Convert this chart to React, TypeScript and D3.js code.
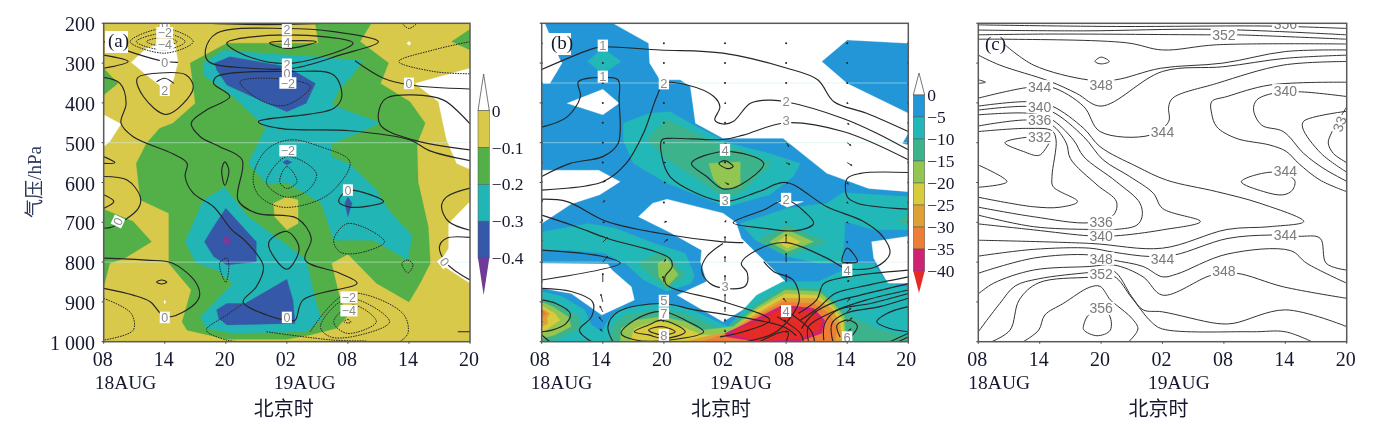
import React from "react";
import * as d3 from "d3";

type Pt = [number, number];

// ---------- axes ----------
const timeTicks = [0, 6, 12, 18, 24, 30, 36];
const timeLabels = ["08", "14", "20", "02", "08", "14", "20"];
const pressureTicks = [200, 300, 400, 500, 600, 700, 800, 900, 1000];
const pressureLabels = ["200", "300", "400", "500", "600", "700", "800", "900", "1 000"];

// ---------- panel (a): shaded field, outlines as [hours, hPa] ----------
const aWhite: Pt[][] = [
  [[2.7,298],[4.2,263],[6,248],[7,250],[7.3,298],[6.8,347],[6,366],[4.2,330]],
  [[0,430],[1.7,453],[.6,497],[0,510]],
  [[36,313],[30.6,351],[32.9,397],[33.7,493],[34.7,552],[36,567]],
  [[36,648],[33.9,703],[33.9,765],[33,803],[36,853]],
  [[30,245],[30.2,250],[30,256],[29.8,250]],
  [[6,895],[6.1,900],[6,905],[5.9,900]],
];
const aGreen: Pt[][] = [
  [[8.5,300],[12.1,250],[21.1,250],[20.8,200],[26.3,200],[25.2,246],[28,300],[27.2,351],[30.1,397],[31.6,451],[30.8,502],[30.9,598],[31.9,711],[32.1,803],[31.1,853],[30,900],[26.8,853],[24,780],[22.4,803],[23.1,879],[23.9,937],[22.9,966],[20.3,983],[18,994],[12.1,994],[8.2,971],[7.7,950],[8.6,870],[6.4,803],[6.4,677],[3.6,644],[3.2,552],[4.2,502],[5.5,464],[6.8,451],[9,401]],
  [[0,313],[1.4,351],[0,380]],
  [[0,667],[2.9,698],[4.7,749],[2.1,790],[.6,803],[0,862]],
  [[36,215],[34.2,246],[36,267]],
];
const aTeal: Pt[][] = [
  [[9.8,300],[11.8,267],[15.4,275],[20.9,284],[25.5,294],[24.2,338],[23.1,368],[22.4,405],[27.2,450],[24.5,481],[22.4,502],[22.4,535],[24.2,554],[26.8,619],[28.1,673],[30.3,732],[29.9,795],[26.5,745],[22.6,745],[21.4,652],[18,600],[16,602],[14.2,552],[15.9,464],[15,439],[12.7,384],[9.8,330]],
  [[8,749],[9.8,644],[11.9,612],[14.2,686],[18,757],[19.9,795],[20.8,895],[21.4,945],[19.9,975],[12.7,979],[10.1,966],[9.5,937],[10.8,904],[12.7,853],[11.1,820],[9.1,803]],
];
const aBlue: Pt[][] = [
  [[10.9,300],[12.4,284],[18,309],[20.8,351],[19.9,401],[18,422],[15.7,397],[12.1,355],[11.1,317]],
  [[18,543],[18.5,549],[18,556],[17.6,549]],
  [[24,636],[24.4,652],[24,686],[23.7,652]],
  [[9.9,749],[10.8,711],[12,665],[15,749],[15,799],[12.1,807],[10.8,786]],
  [[11.1,920],[12.1,904],[13.9,904],[18,843],[18.6,895],[18.8,954],[12.1,958],[11.3,941]],
];
const aPurple: Pt[][] = [[[12.1,732],[12.5,746],[12.1,760],[11.7,746]]];
const aYellowPatch: Pt[][] = [[[16.7,652],[18,636],[19.1,644],[19.1,703],[18,719],[16.8,686]]];

// contour lines of (a)
const aSolidOpen: Pt[][] = [
  [[0,280],[2.4,296],[0,313]],
  [[0,336],[1.6,351],[2.2,401],[1.7,451],[2.9,485],[6.8,528],[8.2,552],[8,585],[8.8,627],[10.8,661],[12.6,719],[14,749],[15.7,811],[15,862],[13.7,900],[16,933],[18,946],[18.8,946],[19.6,895],[24.9,853],[23.2,828],[19.8,795],[20.4,740],[19,690],[15,677],[13.2,644],[13.6,543],[11.4,510],[9.5,485],[8.6,451],[10.1,418],[12.4,384],[10.8,351],[11.1,334],[18.6,321],[22.6,330],[23.4,384],[22.6,414],[15.2,447],[17.3,464],[24.2,470],[30.1,493],[32,520],[36,545]],
  [[36,453],[35,426],[33.4,393],[30.4,380],[27.8,388],[27.1,414],[27.2,456],[30.4,493],[36,518]],
  [[24.7,294],[27.5,338],[30.1,355],[36,365]],
  [[36,738],[33.7,740],[33,761],[33.7,803],[36,845]],
  [[36,614],[33.7,636],[33.2,660],[33.9,698],[36,720]],
  [[0,585],[2.3,594],[3.6,636],[3.4,665],[.9,711],[0,715]],
  [[0,631],[1,648],[0,665]],
  [[0,535],[1.1,550],[0,552]],
  [[0,790],[4.2,795],[6.8,803],[9.1,853],[9.4,887],[8.2,920],[6,937],[4.6,900],[2.9,883],[0,866]],
  [[34.8,975],[36,975]],
  [[0,246],[3,275],[6,296],[7.3,298]],
  [[10,200],[14,203],[18,203],[22,200]],
  [[5.2,347],[6,338],[6.9,351]],
];
const aSolidClosed: Pt[][] = [
  [[5.2,850],[5.7,845],[6.2,850],[5.7,855]],
  [[11.6,569],[11.9,548],[12.3,569],[11.9,607]],
  [[16.2,753],[18,723],[19.2,765],[18,818]],
  [[23.1,648],[24,620],[27.5,648],[24.2,662]],
  [[3.3,338],[5.5,325],[8.1,330],[8.8,363],[6.2,429],[3.9,384]],
  [[27,246],[22.6,221],[18,213],[11.1,225],[10,267],[10.3,296],[14.4,313],[18.6,313],[23.2,280]],
  [[12.1,250],[18,229],[24.5,250],[18.6,300],[14.7,288]],
  [[16.3,249],[18,244],[20.9,246],[18,263]],
];
const aDottedClosed: Pt[][] = [
  [[2.6,246],[6,213],[8.8,246],[6,275]],
  [[3.2,246],[6,225],[8,246],[6,267]],
  [[4.2,246],[6,235],[7.2,246],[6,258]],
  [[17.3,598],[18,560],[19,598],[18,615]],
  [[16,594],[18,535],[20.9,577],[20.1,619],[18,637],[16.2,611]],
  [[14.7,585],[16,518],[18.3,493],[21.3,510],[24.2,548],[22.6,619],[20.3,652],[17.3,661],[15.2,631]],
  [[23.6,950],[24,944],[24.3,951],[24,953]],
  [[22.6,950],[24.5,908],[26.8,950],[23.9,979]],
  [[21.3,962],[24,891],[28.1,950],[24.5,987],[22.2,987]],
  [[22.6,745],[24,703],[27.6,749],[24.9,778],[23.2,774]],
  [[29.3,803],[29.9,795],[30.4,807],[29.9,827]],
  [[11.4,803],[12.1,790],[12.3,811],[12,851]],
  [[13.4,347],[18,341],[20.3,359],[18,405],[15.7,397]],
];
const aDottedOpen: Pt[][] = [
  [[20.3,975],[23.9,879],[29.4,929],[29.9,979],[29.1,1000]],
  [[16,975],[22.6,996],[25.8,998]],
  [[36,246],[32.4,267],[29,296],[32.4,321],[36,327]],
  [[29.3,200],[30,213],[30.8,200]],
  [[13.7,904],[12.1,933],[10.1,971],[12.1,996],[14,1000]],
  [[0,891],[2.7,929],[2.9,971],[0,996]],
];
const aLabels: [string, number, number, number][] = [
  ["0",6,202,0],["−2",6,224,0],["−4",6,254,0],["0",6,298,0],["2",6,368,0],
  ["2",18,216,0],["4",18,247,0],["2",18,303,0],["0",18,326,0],["−2",18.1,350,0],
  ["0",30,351,0],["−2",18.1,520,0],["0",24,619,0],["0",1.4,698,-65],["0",33.5,799,50],
  ["−2",24.1,888,0],["−4",24.1,922,0],["0",18,939,0],["0",6,939,0],
];
const aFaintLevels = [500, 800];

// ---------- panel (b) ----------
const bWhite: Pt[][] = [
  [[7,200],[36,200],[36,250],[30,242],[27.5,296],[30,351],[36,426],[36,476],[35.4,502],[36,506],[36,623],[32.1,615],[28,577],[23.7,489],[17.8,489],[15.1,451],[14.6,359],[13.6,342],[11.6,342],[10.6,300],[10.5,250]],
  [[0,200],[.3,200],[1.8,292],[2,300],[.8,351],[0,351]],
  [[2.5,401],[6,366],[7.6,401],[6,430]],
  [[0,569],[5.6,569],[7.7,598],[5.7,631],[2.9,654],[0,703]],
  [[0,803],[6.5,805],[6.9,820],[8.8,862],[9.1,895],[5.9,933],[2.9,879],[0,866]],
  [[9.5,686],[10.9,652],[12.3,642],[17.8,677],[19.1,701],[19.6,740],[24.1,853],[17.8,950],[13.3,883],[16.2,849],[15.6,799],[15.7,770],[12.7,727]],
  [[32.4,749],[36,735],[36,853],[34,853],[32.6,790]],
  [[23.1,648],[25.7,648],[24.1,662]],
];
const bTeal: Pt[][] = [
  [[4.5,296],[6,263],[7.8,296],[6,327]],
  [[8,451],[10.6,426],[12.6,422],[15.2,460],[18.5,502],[22.4,527],[25.4,552],[24.7,585],[22.4,631],[18.2,661],[12.3,602],[9,552],[8,493]],
  [[0,724],[4.6,703],[7.2,715],[11.1,753],[14.1,778],[15,833],[14.7,853],[12.3,874],[10,845],[8.2,803],[7.7,799],[6.2,778],[2.9,770],[0,770]],
  [[19.5,703],[24.1,665],[28,652],[29.6,625],[36,636],[36,719],[32.6,719],[29.8,698],[29.6,803],[27.2,803],[24.1,786],[21,745]],
  [[0,874],[1.9,885],[4.2,920],[4.9,958],[5.9,975],[6.5,946],[7.8,916],[11.8,904],[14.4,916],[18.3,962],[21.1,883],[23.7,849],[27.2,849],[29.6,820],[29.6,803],[32.6,803],[33.9,853],[36,863],[36,1000],[0,1000]],
];
const bSea: Pt[][] = [
  [[10.3,489],[12.3,443],[15.1,476],[17.8,510],[19.5,518],[22.6,552],[19.5,627],[17.8,636],[14.9,585],[12.3,543]],
  [[9.5,799],[11.4,778],[12.8,791],[14.1,833],[12.3,866],[10,820]],
  [[21.2,745],[24.1,707],[28,749],[24.1,786]],
  [[34.9,694],[36,682],[36,707]],
  [[0,891],[1.6,904],[3.6,937],[3.9,967],[1.9,988],[1,1000],[0,1000]],
  [[6.7,1000],[7,958],[8.2,933],[11.8,919],[14.1,929],[16.7,958],[18.3,975],[18.5,958],[21.1,904],[23.9,862],[27.3,866],[28.8,900],[29.8,929],[32.9,967],[36,988],[36,1000]],
];
const bLime: Pt[][] = [
  [[16.4,552],[19.5,548],[19.5,610],[17.8,615],[16.9,594]],
  [[11.4,803],[12.3,791],[13.4,832],[12.3,862],[11.5,837]],
  [[22.4,749],[24.1,719],[26.7,749],[24.1,774]],
  [[0,900],[1.1,912],[2.6,937],[2.9,962],[1.3,983],[0,992]],
  [[7.7,1000],[7.8,967],[9.1,946],[11.8,937],[14.1,950],[15.7,971],[18.8,962],[21.1,914],[23.9,870],[27.2,874],[28.8,908],[29.7,937],[29.9,1000]],
];
const bYellow: Pt[][] = [
  [[23.2,749],[24.1,732],[25.4,749],[24.1,765]],
  [[0,910],[1.3,929],[1.8,946],[.6,967],[0,979]],
  [[8.7,1000],[9.1,967],[10.5,954],[11.8,950],[13.7,962],[15.7,983],[18.3,983],[19.5,954],[21.1,920],[23.9,880],[27,883],[28.6,912],[29.6,946],[29.7,1000]],
];
const bTan: Pt[][] = [
  [[0,916],[.8,929],[.5,941],[.6,954],[0,962]],
  [[14.1,1000],[16.7,983],[18.3,979],[19.8,950],[21.3,927],[23.7,891],[26.8,891],[28.5,916],[29.3,954],[29.5,1000]],
];
const bOrange: Pt[][] = [
  [[0,921],[.5,929],[0,942]],
  [[15.7,1000],[17.3,986],[18.3,979],[19.5,962],[21.3,933],[23.7,900],[26.7,904],[28.2,929],[29,962],[28.8,1000]],
];
const bMagenta: Pt[][] = [[[18,979],[19.1,966],[21.4,937],[23.7,908],[26.7,916],[27.8,946],[27.5,979],[25.4,998],[21.3,1000],[18.2,988]]];
const bRed: Pt[][] = [[[18.8,975],[21.4,946],[23.7,916],[26.7,925],[27.5,950],[27.2,971],[25.4,992],[21.3,998],[19.1,983]]];

const bLinesOpen: Pt[][] = [
  [[0,316],[5.1,263],[6,259],[11.6,267],[17.8,275],[24.1,313],[27.1,342],[28.7,397],[31.9,426],[36,472]],
  [[0,461],[2.5,435],[3.8,384],[3.6,347],[6,336],[7.5,342],[7.6,393],[7.5,502],[6,535],[2.8,552],[0,585]],
  [[0,619],[6,598],[8.3,552],[10,476],[11.3,384],[12,351],[14.3,355],[16.9,384],[17.5,410],[17,443],[17.8,453],[18.8,447],[20.5,401],[22.4,393],[24,397],[29.6,439],[32.9,476],[36,518]],
  [[36,543],[29.6,472],[24,450],[19.8,481],[17.8,492],[12.6,489],[11.8,493],[11.8,535],[12.6,585],[15.2,627],[18,648],[21.3,623],[24,600],[28,661],[31.6,698],[33.5,736],[34.2,778],[32.9,811],[30,816],[28,790],[24,751],[21.1,770],[19.6,803],[20.2,828],[20,860],[18,866],[16.5,853],[15.7,820],[16.2,786],[17.8,753]],
  [[0,642],[2.5,648],[6.4,698],[12.6,732],[17.8,749],[19.8,751]],
  [[0,682],[3.4,711],[6.4,740],[12.6,791],[12.8,812],[12.1,837],[12.3,858],[17.8,899],[22.4,946],[19.8,975],[17.5,988]],
  [[0,770],[6,786],[7.7,803],[0,845]],
  [[21.8,799],[22.8,824],[24.7,845],[25.3,895],[24.5,937],[22.8,979],[20,1000]],
  [[36,575],[31.3,577],[30,590],[30,636],[31,652],[36,667]],
  [[25.2,929],[27,895],[27.7,854],[30,837],[36,820]],
  [[25.4,946],[27.3,912],[28.8,879],[31.3,862],[36,837]],
  [[25.5,967],[26.7,929],[28.8,900],[31.3,883],[36,854]],
  [[26.2,1000],[26.2,962],[28.6,925],[31.9,895],[36,870]],
  [[27.7,996],[27.8,954],[29,921],[32.3,904],[36,879]],
  [[28.6,1000],[28.5,954],[29.8,929],[33.2,912],[36,891]],
  [[29.3,988],[29,958],[30.1,946],[31,960],[30.3,990]],
  [[36,912],[33.9,929],[32.9,950],[34.2,967],[36,975]],
  [[34.2,1000],[36,979]],
  [[35,1000],[36,988]],
  [[21.4,1000],[23.4,977],[24.2,975],[24,1000]],
  [[23.1,937],[25.4,979],[25.7,1000]],
  [[23.4,912],[26.4,971],[26.8,1000]],
  [[0,895],[1.4,904],[2.8,929],[2.4,954],[1,971],[0,975]],
  [[0,983],[.8,1000]],
  [[0,866],[2.9,874],[5,900],[4.9,937],[3.7,971],[4.9,1000]],
  [[7,1000],[6.5,962],[7.5,925],[11.8,904],[15,920],[18.3,933],[23.7,962],[25,985]],
];
const bLinesClosed: Pt[][] = [
  [[14.7,552],[18,522],[21.8,552],[19.5,606],[17.8,616],[16.2,585]],
  [[17.4,552],[18,545],[18.8,560],[18.2,565]],
  [[18.8,701],[21.8,669],[24,644],[26,678],[26.7,703],[25,721],[21.8,715]],
  [[29.5,799],[30,765],[31,799],[30,801]],
  [[7.8,979],[9.1,946],[11.8,924],[14.1,946],[15.9,975],[12.8,995],[9.1,995]],
  [[9.1,975],[10.5,958],[11.8,946],[14.1,975],[12,992],[10.5,983]],
  [[10.5,971],[11.8,962],[13.1,975],[11.8,983]],
];
const bLabels: [string, number, number, number][] = [
  ["1",6,256,0],["1",6,334,0],["2",12,351,0],["2",24,397,0],["3",24,445,0],["4",18,518,0],
  ["3",18,644,0],["2",24,641,0],["3",18,862,0],["4",30,820,0],["5",12,897,0],["7",12,929,0],
  ["8",12,983,0],["4",24,923,0],["6",30,989,0],
];
const bFaintLevels = [350, 500, 800];
// wind vectors of (b): one row per pressure level, one value per time tick
const arrowLevels = [250,300,350,400,450,500,550,600,650,700,750,800,850,900,925,950,975];
const arrowU = [
  [0,0,0,0,0,0,0],[0,0,0,0,0,0,0],[0,0,0,0,0,0,0],[0,0,0,1,0,1,0],[0,0,0,0,0,2,0],
  [0,0,0,1,3,4,0],[0,0,2,0,4,5,0],[0,3,2,4,2,1,0],[1,2,0,0,0,1,0],[1,2,3,1,0,1,0],
  [0,5,4,0,0,0,0],[0,5,2,0,0,0,1],[0,0,-1,0,0,2,2],[0,-2,-2,0,-3,3,3],[0,-3,-3,0,-3,4,3],
  [0,-4,-4,0,-2,5,4],[0,-3,-3,0,0,4,3],
];
const arrowV = [
  [0,0,0,0,0,0,0],[0,0,0,0,0,0,0],[0,0,0,0,0,0,0],[0,0,0,-1,0,-1,0],[0,0,0,0,0,-2,0],
  [0,0,0,-3,-4,-3,0],[0,0,0,0,-2,-3,0],[2,2,0,-2,-1,-2,0],[3,2,0,0,0,-1,0],[3,0,1,2,0,-1,0],
  [3,5,3,6,8,-1,0],[1,6,3,6,9,-2,4],[0,9,6,7,8,2,5],[0,8,4,8,4,4,6],[0,6,4,5,3,4,6],
  [0,5,3,3,2,4,4],[0,3,2,2,0,3,3],
];

// ---------- panel (c) ----------
const cLinesOpen: Pt[][] = [
  [[0,204],[13.5,208],[28.5,207],[36,213]],
  [[0,217],[10.3,219],[22.8,215],[36,229]],
  [[0,229],[7,227],[22.8,229],[25.2,229],[36,240]],
  [[0,240],[2.8,240],[14.5,249],[18,267],[23.3,254],[36,252]],
  [[2.6,254],[5.4,305],[10.7,342],[13.4,342],[17.8,313],[23.9,300],[30,271],[36,267]],
  [[0,280],[2.1,305],[7,346],[9.6,376],[12,408],[18,321],[24,309],[30,288],[36,280]],
  [[0,388],[4.9,361],[7.2,361],[10.3,409],[11.9,472],[16.8,481],[18.6,447],[18.6,410],[19,388],[23.3,351],[29.8,305],[36,296]],
  [[0,408],[4.9,397],[7.2,408],[10.3,464],[11.9,510],[15.5,560],[18.4,594],[23.3,623],[27.5,652],[31.8,698],[28.5,711],[24.3,718],[18,765],[10.9,753],[0,745]],
  [[0,418],[4.9,409],[7.2,422],[10.3,485],[12.2,543],[14.8,585],[17.1,627],[18,665],[21.7,698],[18,719],[13.4,734],[10.9,734],[5.4,719],[0,704]],
  [[0,430],[4.9,426],[7,439],[9.3,493],[10.3,535],[13.5,598],[15.8,652],[16,686],[15.5,707],[13.4,718],[10.9,718],[5.4,711],[0,682]],
  [[0,458],[4.9,443],[7.2,456],[8.6,501],[9,540],[11.6,606],[13.5,648],[13.2,682],[10.9,701],[5.4,686],[0,662]],
  [[0,472],[4.9,464],[7.2,470],[7.6,493],[7.2,585],[7.3,610],[9.7,648],[8,662],[5.4,661],[0,637]],
  [[0,556],[2.8,598],[0,612]],
  [[0,342],[.7,348],[0,351]],
  [[36,384],[31.3,372],[28.8,376],[27.2,393],[26.9,418],[27.7,456],[29.8,472],[31.8,527],[33.7,564],[36,597]],
  [[36,421],[31.8,446],[31.7,463],[33.5,527],[36,574]],
  [[36,410],[34.5,476],[34.2,501],[34.7,527],[36,550]],
  [[36,348],[28.5,355],[24.3,384],[22.8,397],[22.8,426],[23.3,460],[25.2,489],[28.5,506],[30.1,522],[31.3,552],[33.4,594],[36,623]],
  [[0,785],[5.4,768],[10.9,765],[13.2,775],[16.8,786],[19.2,782],[24.3,741],[28.5,732],[31.3,735],[33.4,740],[34,803],[36,820]],
  [[0,828],[5.4,790],[10.9,782],[13.2,795],[16.1,811],[18,837],[19.4,830],[24.3,780],[30.5,771],[32.1,803],[36,853]],
  [[0,880],[1.5,853],[5.4,820],[10.9,811],[13.2,807],[16.1,837],[18,883],[22.8,833],[25.2,828],[29.8,862],[36,891]],
  [[0,975],[2.1,904],[3.6,860],[5.9,842],[10.9,826],[13.2,822],[15,887],[16.1,920],[18,925],[23.3,954],[24.9,954],[30,920],[36,962]],
  [[1.3,1000],[3.1,971],[4,895],[5.9,852],[10.9,838],[13.2,835],[15,890],[16.9,950],[18,968],[26.7,975],[30,975],[32.6,1000]],
  [[4.4,1000],[5.9,971],[6.5,933],[8.3,904],[10.9,863],[11.9,861],[12.9,895],[13.5,908],[15,941],[15.6,968],[14.7,1000]],
];
const cLinesClosed: Pt[][] = [
  [[11.4,296],[12,285],[12.8,296],[12,302]],
  [[2.6,500],[4.9,486],[7,488],[6.5,518],[5.9,532],[4.4,522]],
  [[25.7,598],[28.8,574],[30.9,594],[30.7,619],[29.8,631],[27.9,623]],
  [[10.3,958],[10.9,930],[12.7,930],[12.9,971],[11.6,985],[10.3,970]],
];
const cLabels: [string, number, number, number][] = [
  ["356",30,202,0],["352",24,229,0],["348",12,355,0],["344",6,359,0],["340",6,409,0],["336",6,443,0],
  ["332",6,486,0],["344",18,474,0],["340",30,369,0],["344",30,571,0],["336",12,700,0],["340",12,734,0],
  ["344",30,732,0],["348",12,791,0],["344",18,793,0],["352",12,830,0],["348",24,821,0],["356",12,916,0],
  ["33",35.3,453,-70],
];

// ---------- legends ----------
const aLegendValues = ["0", "−0.1", "−0.2", "−0.3", "−0.4"];
const aLegendColors = ["#d9c94b", "#52b04a", "#24b5b5", "#3558a8"];
const bLegendValues = ["0", "−5", "−10", "−15", "−20", "−25", "−30", "−35", "−40"];
const bLegendColors = ["#2196d6", "#23b8b8", "#3cb38c", "#93c651", "#d8cb3e", "#dfa036", "#ee7d36", "#cf2072"];

const INK = "#3b3b3b";
const TEXT = "#15192e";
const SERIF = "'Liberation Serif', serif";
const CJK = "'Noto Sans CJK SC', sans-serif";

function makePanel(x0: number, x1: number) {
  const x = d3.scaleLinear().domain([0, 36]).range([x0, x1]);
  const y = d3.scaleLinear().domain([200, 1000]).range([23.3, 341.7]);
  const poly = d3.line<Pt>().x((d) => x(d[0])).y((d) => y(d[1])).curve(d3.curveLinearClosed);
  const open = d3.line<Pt>().x((d) => x(d[0])).y((d) => y(d[1])).curve(d3.curveCatmullRom.alpha(0.5));
  const closed = d3.line<Pt>().x((d) => x(d[0])).y((d) => y(d[1])).curve(d3.curveCatmullRomClosed.alpha(0.5));
  return { x, y, poly, open, closed };
}

const Fill = ({ sets, color, p }: any) => (
  <g fill={color} stroke={color} strokeWidth={0.3}>
    {sets.map((s: Pt[], i: number) => <path key={i} d={p.poly(s) as string} />)}
  </g>
);
const Lines = ({ open = [], closed = [], p, dash, width = 1.15, color = "#262626" }: any) => (
  <g fill="none" stroke={color} strokeWidth={width} strokeDasharray={dash} strokeLinejoin="round">
    {open.map((s: Pt[], i: number) => <path key={"o" + i} d={p.open(s) as string} />)}
    {closed.map((s: Pt[], i: number) => <path key={"c" + i} d={p.closed(s) as string} />)}
  </g>
);
const Faint = ({ levels, p }: any) => (
  <g stroke="#cfeee8" strokeOpacity={0.55} strokeWidth={1}>
    {levels.map((v: number) => <line key={v} x1={p.x(0)} x2={p.x(36)} y1={p.y(v)} y2={p.y(v)} />)}
  </g>
);
const Labels = ({ items, p, size, color }: any) => (
  <g fontFamily="'Liberation Sans', sans-serif" fontSize={size} fill={color} textAnchor="middle">
    {items.map(([t, h, v, rot]: [string, number, number, number], i: number) => {
      const w = t.length * size * 0.56 + 3;
      const hh = size * 0.92;
      return (
        <g key={i} transform={`translate(${p.x(h)},${p.y(v)}) rotate(${rot})`}>
          <rect x={-w / 2} y={-hh / 2} width={w} height={hh} fill="#fff" />
          <text y={size * 0.36}>{t}</text>
        </g>
      );
    })}
  </g>
);

function Frame({ p, id, children, tag, tagBox, tagX, tagY, showY, shift18, shift19, shiftCn, shiftT }: any) {
  const [x0, x1] = p.x.range();
  const [y0, y1] = p.y.range();
  return (
    <g>
      <clipPath id={id}><rect x={x0} y={y0} width={x1 - x0} height={y1 - y0} /></clipPath>
      <g clipPath={`url(#${id})`}>{children}</g>
      {pressureTicks.map((v) => (
        <line key={v} x1={x0 - 2} x2={x0} y1={p.y(v)} y2={p.y(v)} stroke={INK} strokeWidth={1} />
      ))}
      {timeTicks.map((v) => (
        <line key={v} x1={p.x(v)} x2={p.x(v)} y1={y1} y2={y1 + 2} stroke={INK} strokeWidth={1} />
      ))}
      <rect x={x0} y={y0} width={x1 - x0} height={y1 - y0} fill="none" stroke="#5a5a5a" strokeWidth={1.5} />
      {tagBox && <rect x={tagX - 3} y={tagY - 16} width={23} height={22} fill="#fff" />}
      <text x={tagX} y={tagY} fontFamily={SERIF} fontSize={19} fill={TEXT}>{tag}</text>
      {timeTicks.map((v, i) => (
        <text key={v} x={p.x(v) + shiftT} y={365.5} textAnchor="middle" fontFamily={SERIF} fontSize={20} fill={TEXT}>{timeLabels[i]}</text>
      ))}
      <text x={x0 + shift18} y={389} fontFamily={SERIF} fontSize={19.5} fill={TEXT}>18AUG</text>
      <text x={p.x(18) + shift19} y={389} fontFamily={SERIF} fontSize={19.5} fill={TEXT}>19AUG</text>
      <text x={p.x(18) + shiftCn} y={416} textAnchor="middle" fontFamily={CJK} fontSize={20} fill={TEXT}>北京时</text>
      {showY && pressureTicks.map((v, i) => (
        <text key={v} x={95} y={p.y(v) + 8} textAnchor="end" fontFamily={SERIF} fontSize={20} fill={TEXT}>{pressureLabels[i]}</text>
      ))}
    </g>
  );
}

function Legend({ x0, w, top, tip, bottom, values, colors, tipBottom, color }: any) {
  const n = values.length - 1;
  const y = d3.scaleLinear().domain([0, n]).range([top, bottom]);
  const mid = x0 + w / 2;
  return (
    <g>
      <path d={`M${x0},${top}L${mid},${tip}L${x0 + w},${top}Z`} fill="#fff" stroke="#555" strokeWidth={0.8} />
      {colors.map((c: string, i: number) => (
        <rect key={i} x={x0} y={y(i)} width={w} height={y(i + 1) - y(i)} fill={c} stroke="#555" strokeWidth={0.5} />
      ))}
      <path d={`M${x0},${bottom}L${mid},${tipBottom}L${x0 + w},${bottom}Z`} fill={color} />
      {values.map((v: string, i: number) => (
        <text key={i} x={x0 + w + 2.5} y={y(i) + 6} fontFamily={SERIF} fontSize={17.5} fill={TEXT}>{v}</text>
      ))}
    </g>
  );
}

function Arrow({ x, y, u, v }: any) {
  const len = Math.hypot(u, v);
  if (len === 0) return <circle cx={x} cy={y} r={1} fill="#222" />;
  const a = Math.atan2(-v, u);
  const tipX = x + u;
  const tipY = y - v;
  const h = 2.2;
  const left: Pt = [tipX - h * Math.cos(a - 0.55), tipY - h * Math.sin(a - 0.55)];
  const right: Pt = [tipX - h * Math.cos(a + 0.55), tipY - h * Math.sin(a + 0.55)];
  return (
    <g>
      <line x1={x} y1={y} x2={tipX} y2={tipY} stroke="#222" strokeWidth={0.9} />
      <path d={`M${tipX},${tipY}L${left[0]},${left[1]}L${right[0]},${right[1]}Z`} fill="#222" />
    </g>
  );
}

export default function App() {
  const pa = makePanel(103.7, 470);
  const pb = makePanel(541.7, 908.3);
  const pc = makePanel(978.3, 1346.7);
  const arrows = arrowLevels.flatMap((lev, r) =>
    timeTicks.map((t, c) => ({ t, lev, u: arrowU[r][c], v: arrowV[r][c] }))
  );
  return (
    <svg width={1395} height={424} style={{ position: "absolute", left: 0, top: 0, display: "block" }}>
      <defs>
        <filter id="soft" x="-2%" y="-2%" width="104%" height="104%"><feGaussianBlur stdDeviation="0.35" /></filter>
      </defs>
      <rect width={1395} height={424} fill="#fff" />
      <g filter="url(#soft)">
        <Frame p={pa} id="ca" tag="(a)" tagBox tagX={108} tagY={47} showY shift18={-9} shift19={-13} shiftCn={-3} shiftT={-1}>
          <rect x={103} y={23} width={368} height={320} fill={aLegendColors[0]} />
          <Fill sets={aWhite} color="#fff" p={pa} />
          <Fill sets={aGreen} color={aLegendColors[1]} p={pa} />
          <Fill sets={aYellowPatch} color={aLegendColors[0]} p={pa} />
          <Fill sets={aTeal} color={aLegendColors[2]} p={pa} />
          <Fill sets={aBlue} color={aLegendColors[3]} p={pa} />
          <Fill sets={aPurple} color="#7a3a9a" p={pa} />
          <Faint levels={aFaintLevels} p={pa} />
          <Lines open={aSolidOpen} closed={aSolidClosed} p={pa} />
          <Lines open={aDottedOpen} closed={aDottedClosed} p={pa} dash="1.6 1" width={1} />
          <Labels items={aLabels} p={pa} size={12.5} color="#8a8a8a" />
        </Frame>
        <Frame p={pb} id="cb" tag="(b)" tagBox tagX={551} tagY={49} shift18={-11} shift19={-15} shiftCn={-4} shiftT={-2}>
          <rect x={541} y={23} width={368} height={320} fill={bLegendColors[0]} />
          <Fill sets={bWhite} color="#fff" p={pb} />
          <Fill sets={bTeal} color={bLegendColors[1]} p={pb} />
          <Fill sets={bSea} color={bLegendColors[2]} p={pb} />
          <Fill sets={bLime} color={bLegendColors[3]} p={pb} />
          <Fill sets={bYellow} color={bLegendColors[4]} p={pb} />
          <Fill sets={bTan} color={bLegendColors[5]} p={pb} />
          <Fill sets={bOrange} color={bLegendColors[6]} p={pb} />
          <Fill sets={bMagenta} color={bLegendColors[7]} p={pb} />
          <Fill sets={bRed} color="#e62b26" p={pb} />
          <Faint levels={bFaintLevels} p={pb} />
          <Lines open={bLinesOpen} closed={bLinesClosed} p={pb} />
          {arrows.map((a, i) => (
            <Arrow key={i} x={pb.x(a.t)} y={pb.y(a.lev)} u={a.u} v={a.v} />
          ))}
          <Labels items={bLabels} p={pb} size={13} color="#8a8a8a" />
        </Frame>
        <Frame p={pc} id="cc" tag="(c)" tagX={985} tagY={50} shift18={-10} shift19={-14.5} shiftCn={-4} shiftT={-1}>
          <Lines open={cLinesOpen} closed={cLinesClosed} p={pc} width={1} color="#333" />
          <Labels items={cLabels} p={pc} size={14} color="#7a7a7a" />
        </Frame>
        <Legend x0={478} w={11.3} top={110.7} tip={74} bottom={258} tipBottom={295} values={aLegendValues} colors={aLegendColors} color="#6f3b96" />
        <Legend x0={913.3} w={11.4} top={95} tip={73} bottom={271} tipBottom={293} values={bLegendValues} colors={bLegendColors} color="#e62b26" />
        <text transform="translate(41,182) rotate(-90)" textAnchor="middle" fontFamily={SERIF} fontSize={19} fill="#2f3a5c">
          <tspan fontFamily={CJK}>气压</tspan>/hPa
        </text>
      </g>
    </svg>
  );
}
